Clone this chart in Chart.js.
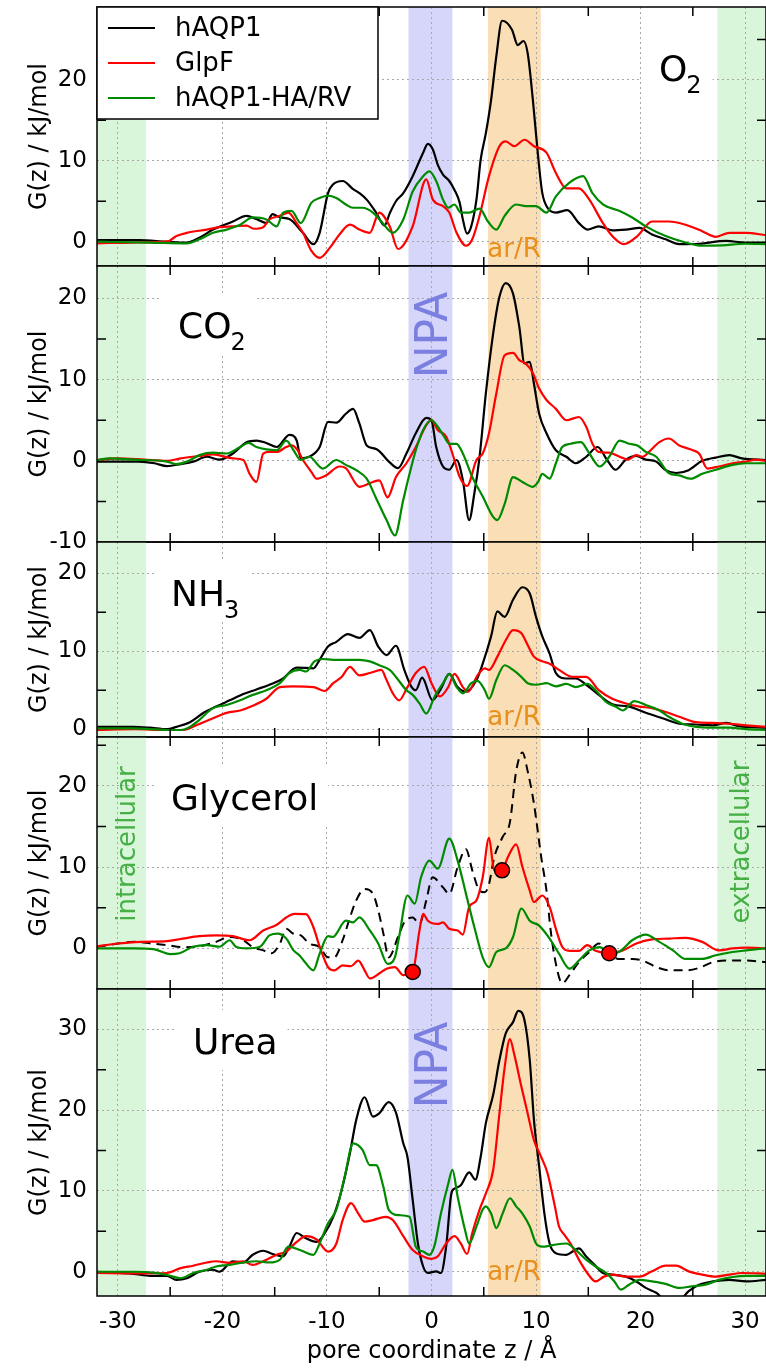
<!DOCTYPE html>
<html>
<head>
<meta charset="utf-8">
<script src="https://cdn.jsdelivr.net/npm/chart.js@4.4.1/dist/chart.umd.min.js"></script>
<style>
html, body { margin: 0; padding: 0; background: #fff; overflow: hidden; }
#wrap { position: relative; width: 766px; height: 1369px; overflow: hidden; }
#wrap canvas { position: absolute; left: 0; }
</style>
</head>
<body>
<div id="wrap"></div>
<script>

// ---- data: free energy profiles G(z) in kJ/mol, as [z (A), G] pairs ----

var seriesNames  = ['hAQP1', 'GlpF', 'hAQP1-HA/RV'];
var panelNames   = ['O2', 'CO2', 'NH3', 'Glycerol', 'Urea'];
var xTicks       = [-30, -20, -10, 0, 10, 20, 30];
var yRanges      = [[-3, 29], [-10, 24], [-1, 24], [-5, 26], [-3, 35]];
var yTicks       = [[0, 10, 20], [-10, 0, 10, 20], [0, 10, 20], [0, 10, 20], [0, 10, 20, 30]];

// shaded regions along z
var cellBands = [[-32, -27.3], [27.35, 32]];
var npaBand   = [-2.2, 2.0];
var arRBand   = [5.4, 10.45];

var o2_hAQP1 = [[-32,0.2],[-28,0.2],[-25.3,0],[-23.4,-0.1],[-22.2,0.5],[-20.9,1.5],[-19,2.5],[-17.7,3.2],[-16.75,2.8],[-15.8,2.3],[-15.2,3.4],[-14.5,3.0],[-13.6,2.8],[-12.3,1.1],[-11.3,-0.3],[-10.7,1.1],[-9.9,6.0],[-9.4,7.1],[-8.5,7.5],[-7.5,6.5],[-6.9,6.0],[-6.2,5.2],[-5.3,3.6],[-4.5,2.0],[-4.0,3.5],[-3.4,5.0],[-2.7,6.0],[-1.8,8.1],[-0.8,11],[-0.35,12.1],[0.13,11.4],[0.6,9.5],[1.1,8.3],[1.7,7.5],[2.2,6.4],[2.7,4.8],[3.0,2.75],[3.4,1.0],[3.8,1.9],[4.3,5.2],[4.7,10.1],[5.2,13.4],[5.7,17.5],[6.2,22.9],[6.75,27.3],[7.7,26.2],[8.25,24.3],[8.8,24.8],[9.2,23.3],[9.7,17.5],[10.2,10.5],[10.6,6.0],[11.1,4.2],[11.9,3.6],[13,3.9],[14.1,2.3],[14.9,1.5],[16,1.9],[17.3,1.4],[18.6,1.5],[19.9,1.7],[21.1,0.9],[22.4,0.3],[23.7,-0.3],[25.6,-0.25],[28.2,0.1],[30,-0.1],[32,-0.1]];
var o2_GlpF = [[-32,-0.2],[-28.6,-0.1],[-25.3,0],[-24.4,0.7],[-23.4,1.1],[-21.5,1.5],[-20.3,1.8],[-19,1.9],[-17.7,2.0],[-17,1.6],[-16.1,1.8],[-15.5,2.75],[-14.5,3.2],[-13.7,3.6],[-12.9,2.3],[-12.3,1.1],[-11.5,-1.1],[-10.7,-2.0],[-9.7,-0.7],[-8.8,0.9],[-7.8,2.1],[-6.9,1.5],[-5.9,1.1],[-5.0,3.6],[-4.0,1.9],[-3.2,-0.9],[-1.8,1.9],[-0.5,7.7],[0.13,5.2],[1.1,4.4],[1.7,3.6],[2.4,1.1],[3.3,-0.5],[3.9,0.3],[4.6,3.2],[5.5,8.1],[6.5,11.8],[7.1,12.4],[7.9,11.8],[8.9,12.6],[9.8,11.8],[11,11],[11.9,8.5],[12.9,6.6],[14.1,6.6],[15.1,5.2],[16.4,2.3],[17.3,0.7],[18.4,-0.3],[19.7,0.7],[21.1,2.5],[22.7,2.5],[24.3,2.1],[25.9,1.3],[27.2,0.6],[28.5,1.1],[30.1,1.1],[32,0.8]];
var o2_HARV = [[-32,0],[-27,-0.1],[-23.4,-0.2],[-22.2,0.3],[-20.9,1.1],[-19.6,1.5],[-18.3,2.1],[-17.1,3.0],[-15.8,2.75],[-14.8,1.9],[-14.2,3.6],[-13.4,3.8],[-12.5,2.3],[-11.5,4.8],[-10.7,5.4],[-9.9,5.7],[-9.1,5.4],[-8.2,4.6],[-7.5,4.2],[-6.6,4.2],[-5.6,3.6],[-4.8,2.5],[-3.7,1.1],[-2.7,2.75],[-1.8,6.2],[-0.8,8.1],[-0.2,8.7],[0.45,7.5],[1.1,5.2],[1.6,4.2],[2.2,4.6],[2.8,3.6],[3.6,3.6],[4.6,4.1],[5.4,2.5],[6.2,1.5],[7.0,3.2],[8.1,4.6],[9.0,4.4],[10,4.4],[11,3.6],[11.9,5.6],[13.2,7.3],[14.5,8.1],[15.4,6.0],[16.4,4.6],[18,3.8],[19.2,3.0],[20.5,1.9],[22.4,0.7],[24.3,-0.1],[25.9,-0.5],[27.8,-0.45],[30,-0.25],[32,-0.3]];

var co2_hAQP1 = [[-32,-0.1],[-28,-0.1],[-26.5,-0.3],[-25.3,-0.65],[-24,-0.4],[-22.8,-0.1],[-21.5,0.5],[-20.3,0.15],[-19,0.9],[-17.7,2.3],[-16.75,2.5],[-15.8,2.2],[-14.8,1.7],[-13.6,3.2],[-12.9,2.5],[-12.5,0.3],[-11.7,0.5],[-10.7,1.7],[-9.9,4.8],[-9.1,4.7],[-8.2,5.8],[-7.5,6.4],[-6.9,4.6],[-6.2,1.9],[-5.4,1.5],[-5,1.2],[-4,-0.2],[-3.2,-0.9],[-2.4,0.9],[-1.5,3.4],[-0.5,5.3],[0,5.0],[0.45,1.7],[1.1,-0.7],[1.7,-1.1],[2.4,0.1],[3.0,-2.4],[3.6,-7.3],[4.1,-4.0],[4.6,0.5],[5.2,8.3],[5.9,15.7],[6.5,20.2],[7.1,21.9],[7.8,20.6],[8.4,16.5],[8.9,12.0],[9.4,12.2],[9.8,9.5],[10.3,5.8],[11,3.4],[11.9,1.3],[12.9,0.5],[13.8,-0.3],[14.8,0.5],[15.9,1.7],[16.8,0.1],[17.6,-1.1],[18.6,0.15],[19.6,0.6],[20.5,0.15],[21.5,-0.1],[22.4,-1.15],[23.4,-1.5],[24.6,-1.15],[25.9,0],[27.2,0.4],[28.5,0.7],[29.7,0.3],[32,0.1]];
var co2_GlpF = [[-32,0.1],[-30,0.3],[-27.5,0.15],[-25.3,0],[-24,0.3],[-22.2,0.6],[-20.9,0.8],[-19,0.3],[-18,0.1],[-17.4,-1.6],[-16.75,-2.6],[-16.1,0.9],[-15.5,1.1],[-14.8,1.1],[-13.9,1.7],[-13.4,1.9],[-12.8,1.3],[-12.3,0.1],[-11.5,-1.35],[-11,-2.2],[-10.1,-1.8],[-8.8,-0.7],[-8.2,-0.9],[-6.9,-3.2],[-5.6,-2.6],[-5,-2.4],[-4.2,-4.5],[-3.4,-2.0],[-2.4,-0.3],[-1.5,1.7],[-0.5,4.4],[0,5.0],[0.6,3.8],[1.4,3.0],[2.0,0.9],[2.7,-2.0],[3.4,-3.1],[4.3,0.1],[4.9,0.9],[5.5,3.4],[6.2,8.3],[7.0,13.0],[7.8,13.3],[8.4,12.4],[9.0,12.0],[9.7,10.8],[10.3,8.9],[11,7.5],[11.9,6.4],[12.9,5.0],[14.1,5.4],[14.8,4.2],[15.4,2.1],[16,1.1],[17,1.0],[18,0.5],[18.8,0.15],[19.6,0.7],[20.2,0.5],[20.8,1.1],[21.8,2.3],[22.7,2.75],[23.7,1.9],[25,1.3],[25.6,0.9],[26.4,-0.95],[27.5,-0.7],[28.8,-0.3],[30.1,-0.1],[31,0.15],[32,0]];
var co2_HARV = [[-32,0.1],[-30.8,0.3],[-28.5,0.15],[-25.3,-0.1],[-24.4,-0.4],[-23.4,-0.1],[-22.2,0.7],[-20.9,1.0],[-19.6,0.9],[-18.3,1.7],[-17.5,2.2],[-16.75,1.7],[-15.8,1.4],[-14.8,1.3],[-13.9,2.5],[-13.2,1.3],[-12.5,0.1],[-11.7,0.5],[-10.4,-0.95],[-9.1,0.1],[-8.2,-0.5],[-7.2,-1.15],[-6.2,-2.2],[-5.3,-4.6],[-4.3,-7.3],[-3.5,-9.2],[-2.7,-4.8],[-2.1,-1.6],[-1.5,1.3],[-0.8,3.8],[0,5.0],[0.6,4.2],[1.2,3.0],[1.7,2.1],[2.4,2.1],[3.0,0.9],[3.9,-2.0],[4.9,-4.4],[5.9,-6.9],[6.3,-7.3],[7.0,-5.3],[7.8,-2.0],[8.7,-2.6],[9.7,-3.2],[10.2,-2.6],[10.6,-1.6],[11.3,-2.2],[11.9,-0.3],[12.5,1.7],[13.3,2.1],[14.3,2.3],[15.1,0.9],[16.1,-0.7],[17,0.5],[18,2.5],[18.9,2.1],[19.7,1.9],[20.5,1.1],[21.5,0.5],[22.7,-1.5],[23.7,-1.8],[24.8,-2.2],[25.9,-1.6],[27.2,-1.1],[28.8,-0.5],[30.1,-0.3],[32,-0.3]];

var nh3_hAQP1 = [[-32,0.3],[-28.5,0.3],[-27,0.2],[-25.3,0],[-24.4,0.3],[-23.1,0.9],[-21.8,2.1],[-20.6,2.9],[-19.3,3.7],[-18,4.5],[-16.75,5.1],[-15.5,5.7],[-14.2,6.5],[-12.9,7.9],[-11.3,7.8],[-10.7,8.9],[-9.9,10.6],[-9.1,11.2],[-8,12.2],[-6.9,11.7],[-5.9,12.7],[-5.1,10.6],[-4.3,9.5],[-3.4,10.7],[-2.6,7.6],[-1.9,5.4],[-1.5,5.0],[-0.9,6.6],[0.1,3.7],[0.9,5.2],[1.7,7.1],[2.5,5.4],[3.3,4.8],[4.3,6.3],[4.9,8.4],[5.7,11.9],[6.3,15.1],[7.0,14.4],[7.8,16.6],[8.7,18.2],[9.4,17.4],[10,14.4],[10.6,11.9],[11.3,9.7],[11.9,7.2],[12.9,6.5],[13.8,6.5],[14.8,5.7],[16,4.4],[17.3,3.2],[18.9,2.9],[20.5,2.1],[22.1,1.4],[23.7,0.7],[25.3,0.6],[26.9,0.5],[28.2,0.8],[29.4,0.4],[32,0.2]];
var nh3_GlpF = [[-32,-0.1],[-28.4,0],[-25.3,-0.1],[-23.7,-0.1],[-22.5,0.5],[-20.9,1.4],[-19.6,2.1],[-18.3,2.4],[-17.1,3.0],[-15.8,3.9],[-14.5,5.4],[-13.2,5.5],[-11.3,5.4],[-10.2,4.9],[-9.4,5.9],[-8.6,6.7],[-7.8,8.0],[-6.9,6.9],[-5.9,7.2],[-4.8,7.6],[-4.3,6.3],[-3.7,4.6],[-3.1,3.7],[-2.3,5.4],[-1.5,7.2],[-0.7,8.0],[0,5.9],[0.8,4.2],[1.6,5.4],[2.2,7.1],[3.0,5.4],[3.5,4.8],[4.4,6.9],[5.1,7.8],[5.5,7.6],[6.3,9.3],[7.1,11.4],[7.8,12.7],[8.6,12.3],[9.2,10.8],[9.8,9.3],[10.6,8.7],[11.3,8.4],[12.2,7.6],[13.5,6.7],[14.8,6.7],[16,5.0],[17.3,3.9],[18.6,3.3],[19.9,2.9],[21.1,2.7],[22.4,2.2],[23.7,1.6],[25.3,0.9],[26.9,0.8],[28.5,0.7],[30.1,0.5],[32,0.3]];
var nh3_HARV = [[-32,0.1],[-28.5,0.1],[-25.3,-0.1],[-24,-0.1],[-23.1,0.3],[-22.2,1.2],[-20.9,2.7],[-19.6,3.1],[-18.3,3.7],[-17.1,4.4],[-15.8,5.0],[-14.5,5.9],[-13.6,7.2],[-12.6,7.6],[-12,7.4],[-11.2,8.7],[-10.4,9.0],[-9.4,8.9],[-7.8,8.9],[-6.9,8.9],[-5.9,8.7],[-5,8.2],[-4,7.6],[-3.4,6.7],[-2.4,5.0],[-1.8,4.4],[-1.15,3.3],[-0.5,2.0],[0.3,4.2],[1.2,6.1],[1.7,7.1],[2.4,5.4],[3.0,4.6],[3.8,5.9],[4.4,6.2],[5.1,5.0],[5.5,3.9],[6.2,6.3],[7.0,8.2],[7.8,7.6],[8.6,6.7],[9.2,5.9],[10,5.7],[11,5.9],[11.9,5.5],[12.9,5.8],[13.8,5.4],[14.9,5.8],[15.7,5.0],[16.7,3.5],[17.6,2.9],[18.3,2.4],[19.4,3.6],[20.5,3.1],[21.8,2.4],[22.7,1.6],[24,0.7],[25.3,0.3],[26.9,0.2],[28.5,0.2],[30.1,0],[32,-0.1]];

var gly_hAQP1 = [[-32,0.15],[-30,0.6],[-28.4,0.8],[-26.8,0.6],[-25.3,0.4],[-23.8,0.15],[-22.2,0.25],[-20.6,0.8],[-19.3,1.4],[-18,1.0],[-17.1,0.15],[-16.1,-0.25],[-15.3,-0.6],[-14.5,0.6],[-13.9,2.4],[-13.2,1.8],[-12.5,1.6],[-11.7,0.6],[-10.7,0.15],[-9.9,-1.1],[-9.3,-1.1],[-8.5,1.0],[-7.8,3.8],[-7.2,5.9],[-6.4,7.3],[-5.6,6.7],[-5.1,4.7],[-4.6,1.8],[-4.1,-1.1],[-3.2,1.4],[-2.6,3.2],[-1.8,3.8],[-1.15,3.0],[-0.5,5.9],[0.1,8.75],[1.1,7.5],[1.7,6.7],[2.5,10.0],[3.3,12.2],[3.9,9.6],[4.6,7.1],[5.1,6.9],[5.5,7.9],[6.0,11.2],[6.8,13.7],[7.5,15.5],[8.1,21.8],[8.7,24.1],[9.2,21.8],[9.8,17.8],[10.5,11.2],[11,7.1],[11.4,2.2],[11.9,-1.9],[12.5,-4.3],[13.3,-3.1],[14.1,-1.7],[15.1,-0.45],[16,0.6],[17,-0.65],[17.9,-1.3],[19.2,-1.3],[20.2,-1.5],[21.5,-2.3],[22.7,-2.7],[24.3,-2.7],[25.6,-2.4],[26.9,-1.7],[28.5,-1.5],[30.1,-1.5],[32,-1.7]];
var gly_GlpF = [[-32,0.25],[-30,0.6],[-27.7,0.8],[-25.3,0.9],[-23.8,1.2],[-22.2,1.5],[-20.6,1.6],[-19,1.5],[-17.4,1.0],[-16.1,2.2],[-14.8,2.9],[-13.9,3.8],[-13.1,4.25],[-12,4.2],[-11.3,2.6],[-10.7,0.2],[-9.9,-2.3],[-9.3,-2.7],[-8.5,-2.1],[-7.7,-2.2],[-7.0,-1.5],[-6.4,-2.7],[-5.9,-3.7],[-5,-3.1],[-4.3,-2.5],[-3.5,-2.3],[-2.7,-3.3],[-1.8,-2.9],[-1.15,2.2],[-0.8,4.25],[-0.35,3.4],[0.6,3.0],[1.1,3.2],[1.7,2.4],[2.5,2.2],[3.0,1.7],[3.6,5.1],[4.3,5.9],[4.9,8.75],[5.5,13.6],[6.0,9.6],[6.75,9.6],[7.3,11.2],[8.1,12.8],[8.7,10.0],[9.4,7.1],[9.8,5.7],[10.6,6.5],[11.3,5.1],[11.9,2.4],[12.5,0.2],[13.2,-0.3],[14.1,-0.3],[14.9,0.4],[15.7,-0.3],[17,-0.6],[18.3,-0.25],[19.6,0.6],[21.1,1.1],[22.7,1.2],[24.3,1.3],[25.9,0.8],[27.5,-0.25],[28.8,0],[30.1,0.1],[32,0]];
var gly_HARV = [[-32,0],[-28.5,0],[-26.6,-0.1],[-25,-0.7],[-24.1,-0.6],[-22.8,0.2],[-21.5,0.4],[-20.3,0.2],[-19.3,1.0],[-18.7,0.2],[-17.7,0],[-16.4,0.2],[-15.5,1.6],[-14.7,1.8],[-13.9,1.2],[-13.2,-0.25],[-12.6,-0.9],[-12.1,-1.7],[-11.3,-2.7],[-10.7,-0.65],[-9.9,1.5],[-9.4,1.4],[-9.1,1.8],[-8.2,3.4],[-7.5,3.2],[-6.9,3.8],[-5.9,2.2],[-5.1,0.6],[-4.2,-1.9],[-3.5,-1.1],[-3.1,1.4],[-2.3,6.5],[-1.6,5.5],[-1,8.75],[-0.2,10.8],[0.6,9.8],[1.7,13.5],[2.5,10.8],[3.3,6.7],[4.1,2.6],[4.9,-1.1],[5.5,-2.3],[6.2,-0.45],[7.1,0],[7.8,1.4],[8.6,4.9],[9.4,3.4],[10.3,2.8],[11.3,1.2],[12.2,-0.65],[13.2,-2.5],[14.1,-1.5],[15.1,-0.25],[16.1,0.15],[17,-0.6],[17.9,-0.45],[19.2,1.0],[20.5,1.7],[21.8,0.8],[23.1,-0.25],[24.3,-1.3],[25.9,-1.3],[27.2,-0.85],[28.8,-0.45],[30.1,-0.25],[32,0]];
var gly_marks = [[-1.8,-2.9],[6.75,9.6],[17,-0.6]];

var urea_hAQP1 = [[-32,0],[-28.5,-0.25],[-26.9,-0.5],[-25.3,-0.5],[-24.4,-1.0],[-23.4,-0.8],[-22.2,0],[-20.9,0.25],[-20.3,0],[-19,1.3],[-18,1.15],[-17.1,2.1],[-16.1,2.6],[-15.2,2.2],[-14.2,1.9],[-13.6,3.1],[-12.9,4.8],[-12.1,4.2],[-11,3.7],[-10.2,4.8],[-9.4,6.8],[-8.6,10.1],[-7.8,14.7],[-7.2,18.8],[-6.4,21.6],[-5.6,19.2],[-5,19.6],[-4.1,21.0],[-3.4,19.7],[-2.7,15.9],[-2.3,14.2],[-1.8,8.9],[-1.3,3.5],[-0.8,0.65],[-0.35,-0.15],[0.45,0.05],[0.9,-0.15],[1.4,3.1],[1.9,9.7],[2.2,10.3],[2.8,10.7],[3.6,12.3],[4.2,11.4],[4.7,14.2],[5.2,18.4],[5.9,21.9],[6.5,26.2],[7.1,29.5],[7.8,30.9],[8.3,32.3],[8.9,31.1],[9.4,26.2],[9.8,18.8],[10.3,13.0],[10.8,7.2],[11.3,3.5],[11.9,2.3],[12.9,2.1],[13.5,2.5],[14.1,2.9],[14.8,1.9],[15.6,0.85],[16.4,-0.15],[17.3,-0.35],[18.6,-0.6],[19.6,-1.2],[20.5,-2.0],[21.5,-2.6],[22.4,-3.5],[23.7,-3.5],[24.6,-2.4],[25.6,-1.6],[26.9,-1.2],[28.5,-1.0],[30.1,-1.2],[32,-1.0]];
var urea_GlpF = [[-32,-0.15],[-28.5,-0.2],[-25.3,-0.15],[-24,0.45],[-22.8,0.75],[-21.5,1.15],[-20.6,1.3],[-19.3,1.1],[-18,1.3],[-17.1,0.85],[-16.1,1.3],[-14.8,2.1],[-13.9,2.5],[-12.9,3.7],[-12,4.4],[-11,4.0],[-9.9,2.5],[-9.1,3.5],[-8.5,6.4],[-7.7,8.5],[-7.0,7.2],[-6.4,6.2],[-5.6,6.4],[-4.4,6.8],[-3.7,6.4],[-2.7,4.4],[-1.8,2.7],[-0.8,1.9],[0,1.6],[0.6,1.9],[1.4,3.5],[2.2,4.4],[2.8,3.5],[3.4,2.2],[3.9,4.8],[4.6,7.7],[5.2,9.7],[5.9,12.6],[6.5,19.6],[7.0,25.3],[7.5,28.8],[7.9,27],[8.6,22.9],[9.2,19.6],[9.8,16.3],[10.5,14.2],[11.1,12.2],[11.8,8.1],[12.2,5.6],[12.7,4.6],[13.3,3.5],[14.1,1.5],[14.9,-0.15],[15.7,-1.2],[16.5,-0.6],[17.3,-0.35],[18.6,-0.6],[19.9,-0.6],[21.1,0.05],[22.4,0.75],[23.4,0.75],[24.6,0.05],[25.9,-0.35],[27.2,-0.6],[28.5,-0.35],[29.7,-0.15],[32,-0.25]];
var urea_HARV = [[-32,0],[-28.5,0],[-26.6,-0.1],[-25.3,-0.4],[-24,-0.8],[-22.8,-0.15],[-21.5,0.25],[-20.6,0.65],[-19.3,0.85],[-18,1.15],[-16.75,1.3],[-15.5,1.15],[-14.5,1.5],[-13.7,3.1],[-12.6,2.7],[-11.3,2.1],[-10.7,3.5],[-9.9,6.0],[-9.1,7.7],[-8.3,11.8],[-7.5,15.9],[-6.6,15.1],[-5.9,13.2],[-5.3,13.2],[-4.6,10.5],[-4.1,7.7],[-3.1,7.0],[-2.1,6.8],[-1.5,3.1],[-0.8,2.5],[-0.2,2.1],[0.3,3.3],[0.9,7.2],[1.6,10.9],[2.0,12.6],[2.5,9.3],[3.2,5.2],[3.6,3.5],[4.3,5.6],[4.9,7.7],[5.2,8.1],[5.7,7.2],[6.2,5.4],[6.8,7.2],[7.5,9.1],[8.1,8.1],[8.7,7.2],[9.4,5.6],[10,3.5],[10.6,3.1],[11.6,3.3],[12.9,3.5],[13.8,2.7],[14.8,1.5],[15.7,0.65],[16.7,-0.15],[17.5,-1.2],[18.1,-2.2],[18.9,-1.6],[19.9,-1.0],[21.1,-1.2],[22.4,-1.5],[23.7,-2.0],[24.9,-1.8],[26.2,-1.6],[27.5,-1.0],[28.8,-0.65],[30.1,-0.5],[32,-0.5]];

// ---- look ----

var FONT = 'DejaVu Sans';
var BLACK = '#000000', RED = '#ff0000', GREEN = '#008a00';
var seriesColors = [BLACK, RED, GREEN];
var PAD = 30;
var panelTop = [7, 266, 542, 737, 989];
var panelBot = [266, 542, 737, 989, 1296];
var canvasTop = panelTop.map(function (t) { return t - PAD; });

var panelLabels = [
    {main: 'O',        sub: '2', x: 659, y: 81},
    {main: 'CO',       sub: '2', x: 178, y: 338},
    {main: 'NH',       sub: '3', x: 171, y: 606},
    {main: 'Glycerol', sub: '',  x: 171, y: 810},
    {main: 'Urea',     sub: '',  x: 193, y: 1054}
];

var NPA_C = '#7b7fe0', ARR_C = '#e8901c', CELL_C = '#46b046';
var notes = [
    [{t: 'ar/R', x: 514, y: 257, c: ARR_C, s: 26, rot: false}],
    [{t: 'NPA', x: 447, y: 335, c: NPA_C, s: 44, rot: true}],
    [{t: 'ar/R', x: 514, y: 725, c: ARR_C, s: 26, rot: false}],
    [{t: 'intracellular', x: 135, y: 844, c: CELL_C, s: 26, rot: true},
     {t: 'extracellular', x: 749, y: 842, c: CELL_C, s: 26, rot: true}],
    [{t: 'NPA', x: 447, y: 1065, c: NPA_C, s: 44, rot: true},
     {t: 'ar/R', x: 514, y: 1280, c: ARR_C, s: 26, rot: false}]
];


function line(pts, color, extra) {
    var ds = {
        data: pts.map(function (p) { return {x: p[0], y: p[1]}; }),
        borderColor: color,
        borderWidth: 2.2,
        pointRadius: 0,
        fill: false,
        cubicInterpolationMode: 'monotone'
    };
    for (var k in extra) ds[k] = extra[k];
    return ds;
}


function decor(i) {
    var off = canvasTop[i];
    return {
        id: 'decor' + i,
        beforeDraw: function (chart) {
            var ctx = chart.ctx, a = chart.chartArea, xs = chart.scales.x;
            function band(r, col) {
                var x0 = xs.getPixelForValue(r[0]), x1 = xs.getPixelForValue(r[1]);
                ctx.fillStyle = col;
                ctx.fillRect(x0, a.top, x1 - x0, a.bottom - a.top);
            }
            ctx.save();
            cellBands.forEach(function (b) { band(b, 'rgb(218,246,218)'); });
            band(npaBand, 'rgb(214,214,250)');
            band(arRBand, 'rgb(250,222,182)');
            ctx.restore();
        },
        beforeDatasetsDraw: function (chart) {
            var ctx = chart.ctx;
            ctx.save();
            // panel label with white box
            var L = panelLabels[i];
            ctx.font = '36px "' + FONT + '"';
            var wMain = ctx.measureText(L.main).width;
            ctx.font = '24px "' + FONT + '"';
            var wSub = L.sub ? ctx.measureText(L.sub).width : 0;
            ctx.fillStyle = '#fff';
            ctx.fillRect(L.x - 17, L.y - off - 44, wMain + wSub + 27, 60);
            ctx.fillStyle = '#000';
            ctx.textBaseline = 'alphabetic';
            ctx.textAlign = 'left';
            ctx.font = '36px "' + FONT + '"';
            ctx.fillText(L.main, L.x, L.y - off);
            if (L.sub) {
                ctx.font = '24px "' + FONT + '"';
                ctx.fillText(L.sub, L.x + wMain - 1, L.y - off + 12);
            }
            // region notes
            notes[i].forEach(function (n) {
                ctx.save();
                ctx.fillStyle = n.c;
                ctx.font = n.s + 'px "' + FONT + '"';
                ctx.textAlign = 'center';
                ctx.textBaseline = 'alphabetic';
                ctx.translate(n.x, n.y - off);
                if (n.rot) ctx.rotate(-Math.PI / 2);
                ctx.fillText(n.t, 0, 0);
                ctx.restore();
            });
            ctx.restore();
        },
        afterDatasetsDraw: function (chart) {
            var ctx = chart.ctx, a = chart.chartArea, xs = chart.scales.x, ys = chart.scales.y;
            ctx.save();
            ctx.strokeStyle = '#000';
            ctx.lineWidth = 1.5;
            ctx.beginPath();
            // minor x ticks (every 5, between labelled ones)
            for (var v = -25; v <= 25; v += 10) {
                var px = xs.getPixelForValue(v);
                ctx.moveTo(px, a.top); ctx.lineTo(px, a.top + 9);
                ctx.moveTo(px, a.bottom); ctx.lineTo(px, a.bottom - 9);
            }
            // minor y ticks
            var r = yRanges[i];
            for (var w = Math.ceil(r[0] / 5) * 5; w < r[1]; w += 5) {
                if (w <= r[0] || w % 10 === 0) continue;
                var py = ys.getPixelForValue(w);
                ctx.moveTo(a.left, py); ctx.lineTo(a.left + 9, py);
                ctx.moveTo(a.right, py); ctx.lineTo(a.right - 9, py);
            }
            ctx.stroke();
            ctx.strokeRect(a.left, a.top, a.right - a.left, a.bottom - a.top);

            if (i === 0) {
                // key box
                var bx = 97, by = 7 - off, bw = 281, bh = 112;
                ctx.fillStyle = '#fff';
                ctx.fillRect(bx, by, bw, bh);
                ctx.strokeRect(bx, by, bw, bh);
                ctx.font = '26px "' + FONT + '"';
                ctx.textBaseline = 'middle';
                ctx.textAlign = 'left';
                seriesNames.forEach(function (name, k) {
                    var yy = 28 + 35 * k - off;
                    ctx.strokeStyle = seriesColors[k];
                    ctx.lineWidth = 2.2;
                    ctx.beginPath();
                    ctx.moveTo(108, yy); ctx.lineTo(155, yy);
                    ctx.stroke();
                    ctx.fillStyle = '#000';
                    ctx.fillText(name, 175, yy + 1);
                });
            }
            ctx.restore();
        }
    };
}


function makePanel(i, datasets) {
    var last = (i === panelNames.length - 1);
    var top = canvasTop[i];
    var h = last ? 1369 - top : (panelBot[i] - panelTop[i]) + 2 * PAD;
    var cv = document.createElement('canvas');
    cv.width = 767;
    cv.height = h;
    cv.style.top = top + 'px';
    cv.style.width = '767px';
    cv.style.height = h + 'px';
    document.getElementById('wrap').appendChild(cv);

    var gridCol = '#a8a8a8';
    return new Chart(cv.getContext('2d'), {
        type: 'line',
        data: {datasets: datasets},
        options: {
            responsive: false,
            animation: false,
            devicePixelRatio: 1,
            events: [],
            layout: {autoPadding: false, padding: {left: 0, right: 1, top: PAD, bottom: last ? 0 : PAD}},
            plugins: {legend: {display: false}, tooltip: {enabled: false}},
            scales: {
                x: {
                    type: 'linear',
                    min: -32, max: 32,
                    afterBuildTicks: function (s) { s.ticks = xTicks.map(function (v) { return {value: v}; }); },
                    afterFit: function (s) {
                        s.height = last ? 73 : 0;
                        s.paddingLeft = 0;
                        s.paddingRight = 0;
                    },
                    grid: {color: gridCol, lineWidth: 1, drawTicks: false},
                    border: {display: false, dash: [2, 3]},
                    ticks: {display: last, padding: 12, color: '#000', autoSkip: false, maxRotation: 0,
                            font: {family: FONT, size: 23}},
                    title: {display: last, text: 'pore coordinate z / Å', color: '#000',
                            font: {family: FONT, size: 24}, padding: {top: 0, bottom: 3}}
                },
                y: {
                    type: 'linear',
                    min: yRanges[i][0], max: yRanges[i][1],
                    afterBuildTicks: function (s) { s.ticks = yTicks[i].map(function (v) { return {value: v}; }); },
                    afterFit: function (s) { s.width = 97; },
                    grid: {color: gridCol, lineWidth: 1, drawTicks: false},
                    border: {display: false, dash: [2, 3]},
                    ticks: {padding: 10, color: '#000', autoSkip: false, font: {family: FONT, size: 23}},
                    title: {display: true, text: 'G(z) / kJ/mol', color: '#000',
                            font: {family: FONT, size: 24}, padding: {top: 25, bottom: 0}}
                }
            }
        },
        plugins: [decor(i)]
    });
}


makePanel(0, [line(o2_HARV, GREEN), line(o2_GlpF, RED), line(o2_hAQP1, BLACK)]);
makePanel(1, [line(co2_HARV, GREEN), line(co2_GlpF, RED), line(co2_hAQP1, BLACK)]);
makePanel(2, [line(nh3_HARV, GREEN), line(nh3_GlpF, RED), line(nh3_hAQP1, BLACK)]);
makePanel(3, [
    {
        data: gly_marks.map(function (p) { return {x: p[0], y: p[1]}; }),
        showLine: false,
        pointRadius: 7.5,
        pointBackgroundColor: RED,
        pointBorderColor: '#000',
        pointBorderWidth: 1.5
    },
    line(gly_HARV, GREEN),
    line(gly_GlpF, RED),
    line(gly_hAQP1, BLACK, {borderDash: [9, 6], borderWidth: 2})
]);
makePanel(4, [line(urea_HARV, GREEN), line(urea_GlpF, RED), line(urea_hAQP1, BLACK)]);

</script>
</body>
</html>
